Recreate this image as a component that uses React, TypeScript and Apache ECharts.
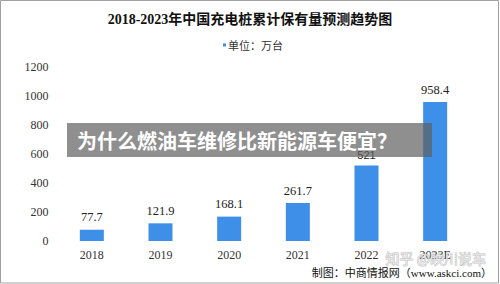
import React, { useEffect, useRef } from "react";
import * as echarts from "echarts";

const categories = ["2018", "2019", "2020", "2021", "2022", "2023E"];
const values = [77.7, 121.9, 168.1, 261.7, 521, 958.4];
const yTicks = [0, 200, 400, 600, 800, 1000, 1200];

const titleText = "2018-2023年中国充电桩累计保有量预测趋势图";
const unitText = "单位：万台";
const sourceText = "制图：中商情报网（www.askci.com）";
const bannerText = "为什么燃油车维修比新能源车便宜？";
const watermarkText = "知乎 @映川说车";

export default function App() {
  const ref = useRef<HTMLDivElement>(null);
  useEffect(() => {
    if (!ref.current) return;
    const chart = echarts.init(ref.current, null, { renderer: "svg" });
    const serif = "'Liberation Serif', 'Noto Sans CJK SC', serif";
    chart.setOption({
      animation: false,
      backgroundColor: "#ffffff",
      grid: { left: 57.5, right: 30.5, top: 67, bottom: 43 },
      xAxis: {
        type: "category",
        data: categories,
        axisLine: { show: false },
        axisTick: { show: false },
        axisLabel: { color: "#333", fontFamily: serif, fontSize: 12, margin: 8 },
      },
      yAxis: {
        type: "value",
        min: yTicks[0],
        max: yTicks[yTicks.length - 1],
        interval: 200,
        splitLine: { show: false },
        axisLine: { show: false },
        axisTick: { show: false },
        axisLabel: {
          color: "#333",
          fontFamily: serif,
          fontSize: 12,
          margin: 9,
          formatter: (v: number) => String(v),
        },
      },
      series: [
        {
          type: "bar",
          barWidth: 24,
          itemStyle: { color: "#3d8fe8" },
          label: {
            show: true,
            position: "top",
            distance: 6,
            color: "#222",
            fontFamily: serif,
            fontSize: 12.5,
          },
          data: values.map((v, i) =>
            i === 4
              ? {
                  value: v,
                  label: {
                    fontFamily: "'Liberation Sans', sans-serif",
                    fontSize: 11,
                    distance: 5,
                  },
                }
              : v
          ),
        },
      ],
      graphic: [
        {
          type: "rect",
          shape: { x: 0.5, y: 0.5, width: 498, height: 282.5 },
          style: { fill: "none", stroke: "#a0a0a0", lineWidth: 1 },
          silent: true,
        },
        {
          type: "text",
          x: 250,
          y: 19,
          style: {
            text: titleText,
            fontFamily: serif,
            fontSize: 14,
            fontWeight: "bold",
            fill: "#111",
            align: "center",
            verticalAlign: "middle",
          },
        },
        {
          type: "rect",
          shape: { x: 223, y: 43.5, width: 3, height: 3 },
          style: { fill: "#3d8fe8" },
        },
        {
          type: "text",
          x: 228,
          y: 45,
          style: {
            text: unitText,
            fontFamily: "'Noto Sans CJK SC', sans-serif",
            fontSize: 11,
            fill: "#333",
            align: "left",
            verticalAlign: "middle",
          },
        },
        {
          type: "rect",
          shape: { x: 67, y: 123, width: 365, height: 34 },
          style: { fill: "rgba(95,95,95,0.7)" },
          z: 100,
        },
        {
          type: "text",
          x: 77,
          y: 140,
          z: 101,
          style: {
            text: bannerText,
            fontFamily: "'Noto Sans CJK SC', sans-serif",
            fontSize: 20,
            fontWeight: "bold",
            fill: "#ffffff",
            align: "left",
            verticalAlign: "middle",
          },
        },
        {
          type: "text",
          x: 486,
          y: 258,
          z: 101,
          style: {
            text: watermarkText,
            fontFamily: "'Noto Sans CJK SC', sans-serif",
            fontSize: 14,
            fill: "rgba(235,235,235,0.9)",
            stroke: "rgba(170,170,170,0.7)",
            lineWidth: 1,
            align: "right",
            verticalAlign: "middle",
          },
        },
        {
          type: "text",
          x: 492,
          y: 273,
          z: 102,
          style: {
            text: sourceText,
            fontFamily: "'Liberation Serif', 'Noto Sans CJK SC', serif",
            fontSize: 11,
            fill: "#111",
            align: "right",
            verticalAlign: "middle",
          },
        },
      ],
    });
    return () => chart.dispose();
  }, []);
  return (
    <div
      ref={ref}
      style={{ position: "absolute", left: 0, top: 0, width: 500, height: 284 }}
    />
  );
}
